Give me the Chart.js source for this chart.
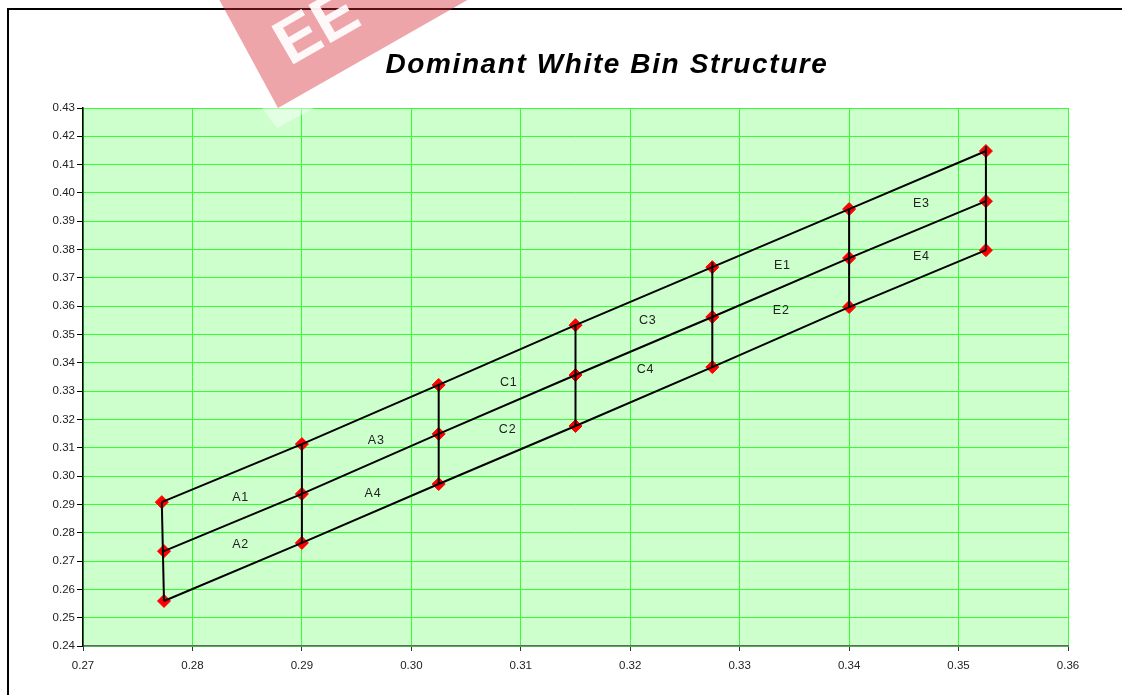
<!DOCTYPE html>
<html>
<head>
<meta charset="utf-8">
<title>Dominant White Bin Structure</title>
<script src="https://cdn.jsdelivr.net/npm/chart.js@4/dist/chart.umd.min.js"></script>
<style>
  html, body { margin: 0; padding: 0; background: #fff; overflow: hidden; }
  #wrap { position: absolute; left: 0; top: 0; width: 1122px; height: 695px; }
</style>
</head>
<body>
<div id="wrap"><canvas id="chart"></canvas></div>
<script>
// bin edges (x) and the three boundary lines (y)
const edgeX      = [0.2774, 0.2900, 0.3025, 0.3150, 0.3275, 0.3400, 0.3525];
const edgeXTop   = [0.2772, 0.2900, 0.3025, 0.3150, 0.3275, 0.3400, 0.3525];
const upperY     = [0.2908, 0.3113, 0.3322, 0.3533, 0.3738, 0.3943, 0.4148];
const middleY    = [0.2735, 0.2937, 0.3149, 0.3357, 0.3562, 0.3770, 0.3971];
const lowerY     = [0.2559, 0.2764, 0.2972, 0.3177, 0.3385, 0.3597, 0.3798];
// the vertical edges overshoot the upper line a little at two places
const edgeTopY   = [0.2908, 0.3113, 0.3322, 0.3533, 0.3755, 0.3943, 0.4165];

// bin names and where they sit
const binNames = ['A1', 'A2', 'A3', 'A4', 'C1', 'C2', 'C3', 'C4', 'E1', 'E2', 'E3', 'E4'];
const binLabelX = [0.2844, 0.2844, 0.2968, 0.2965, 0.3089, 0.3088, 0.3216, 0.3214, 0.3339, 0.3338, 0.3466, 0.3466];
const binLabelY = [0.2926, 0.2757, 0.3127, 0.2937, 0.3332, 0.3163, 0.3548, 0.3375, 0.3745, 0.3583, 0.3961, 0.3774];

const xTicks = { min: 0.27, max: 0.36, step: 0.01 };
const yTicks = { min: 0.24, max: 0.43, step: 0.01 };

const TITLE = 'Dominant White Bin Structure';

const pts = (xs, ys) => xs.map((x, i) => ({ x: x, y: ys[i] }));

const lineStyle = {
  showLine: true,
  borderColor: '#000',
  borderWidth: 2,
  pointRadius: 0,
  pointHoverRadius: 0,
  fill: false
};

const datasets = [
  Object.assign({ label: 'upper', data: pts(edgeXTop, upperY) }, lineStyle),
  Object.assign({ label: 'middle', data: pts(edgeX, middleY) }, lineStyle),
  Object.assign({ label: 'lower', data: pts(edgeX, lowerY) }, lineStyle)
];
edgeX.forEach((x, i) => {
  datasets.push(Object.assign({
    label: 'edge' + i,
    data: [{ x: edgeXTop[i], y: edgeTopY[i] }, { x: x, y: lowerY[i] }]
  }, lineStyle));
});
// red diamonds underneath the lines
datasets.push({
  label: 'points',
  data: pts(edgeXTop, upperY).concat(pts(edgeX, middleY), pts(edgeX, lowerY)),
  showLine: false,
  pointStyle: 'rectRot',
  pointRadius: 6.5,
  pointHoverRadius: 6.5,
  pointBackgroundColor: '#ff0000',
  pointBorderColor: '#ff0000',
  pointBorderWidth: 1
});

const frameAndBack = {
  id: 'frameAndBack',
  beforeDraw(chart) {
    const { ctx, chartArea: a } = chart;
    ctx.save();
    ctx.fillStyle = '#fff';
    ctx.fillRect(0, 0, chart.width, chart.height);
    ctx.strokeStyle = '#000';
    ctx.lineWidth = 2;
    ctx.strokeRect(8, 9, chart.width + 20, chart.height + 20);
    ctx.fillStyle = '#ccffcc';
    ctx.fillRect(a.left, a.top, a.right - a.left, a.bottom - a.top);
    ctx.restore();
  }
};

const binLabels = {
  id: 'binLabels',
  afterDatasetsDraw(chart) {
    const { ctx, scales } = chart;
    ctx.save();
    ctx.font = '12.5px "Liberation Sans", Arial, sans-serif';
    ctx.letterSpacing = '0.8px';
    ctx.fillStyle = '#222';
    ctx.textAlign = 'center';
    ctx.textBaseline = 'middle';
    binNames.forEach((n, i) => {
      ctx.fillText(n, scales.x.getPixelForValue(binLabelX[i]), scales.y.getPixelForValue(binLabelY[i]));
    });
    ctx.restore();
  }
};

const watermarkAndTitle = {
  id: 'watermarkAndTitle',
  afterDraw(chart) {
    const { ctx } = chart;
    ctx.save();
    // pink stamp in the top corner
    ctx.fillStyle = 'rgba(214, 40, 52, 0.42)';
    ctx.beginPath();
    ctx.moveTo(214, -10);
    ctx.lineTo(278, 108);
    ctx.lineTo(485, -10);
    ctx.closePath();
    ctx.fill();
    ctx.fillStyle = 'rgba(255, 255, 255, 0.45)';
    ctx.beginPath();
    ctx.moveTo(262, 108);
    ctx.lineTo(277, 128);
    ctx.lineTo(314, 108);
    ctx.closePath();
    ctx.fill();
    ctx.translate(318, 30);
    ctx.rotate(-Math.PI / 6);
    ctx.fillStyle = 'rgba(255, 255, 255, 0.92)';
    ctx.font = 'bold 64px "Liberation Sans", Arial, sans-serif';
    ctx.textAlign = 'center';
    ctx.textBaseline = 'middle';
    ctx.fillText('EE', 0, 0);
    ctx.restore();

    ctx.save();
    ctx.font = 'italic bold 28px "Liberation Sans", Arial, sans-serif';
    ctx.letterSpacing = '1.6px';
    ctx.fillStyle = '#000';
    ctx.textAlign = 'center';
    ctx.textBaseline = 'alphabetic';
    ctx.fillText(TITLE, 607, 73);
    ctx.restore();
  }
};

const tickFont = { family: '"Liberation Sans", Arial, sans-serif', size: 11.5 };

new Chart(document.getElementById('chart'), {
  type: 'scatter',
  data: { datasets: datasets },
  options: {
    responsive: true,
    maintainAspectRatio: false,
    animation: false,
    layout: { padding: { left: 0, right: 54, top: 108, bottom: 9 } },
    plugins: {
      legend: { display: false },
      title: { display: false },
      tooltip: { enabled: false }
    },
    scales: {
      x: {
        type: 'linear',
        min: xTicks.min,
        max: xTicks.max,
        ticks: {
          stepSize: xTicks.step,
          color: '#222',
          font: tickFont,
          padding: 8,
          callback: v => v.toFixed(2)
        },
        grid: { color: '#33ff33', lineWidth: 1, tickColor: '#333', tickLength: 5 },
        border: { color: '#666', width: 1.5 },
        afterFit: s => { s.height = 40; }
      },
      y: {
        type: 'linear',
        min: yTicks.min,
        max: yTicks.max,
        ticks: {
          stepSize: yTicks.step,
          color: '#222',
          font: tickFont,
          padding: 2,
          callback: v => v.toFixed(2)
        },
        grid: { color: '#33ff33', lineWidth: 1, tickColor: '#000', tickLength: 6 },
        border: { color: '#000', width: 1.5 },
        afterFit: s => { s.width = 83; }
      }
    }
  },
  plugins: [frameAndBack, binLabels, watermarkAndTitle]
});
</script>
</body>
</html>
